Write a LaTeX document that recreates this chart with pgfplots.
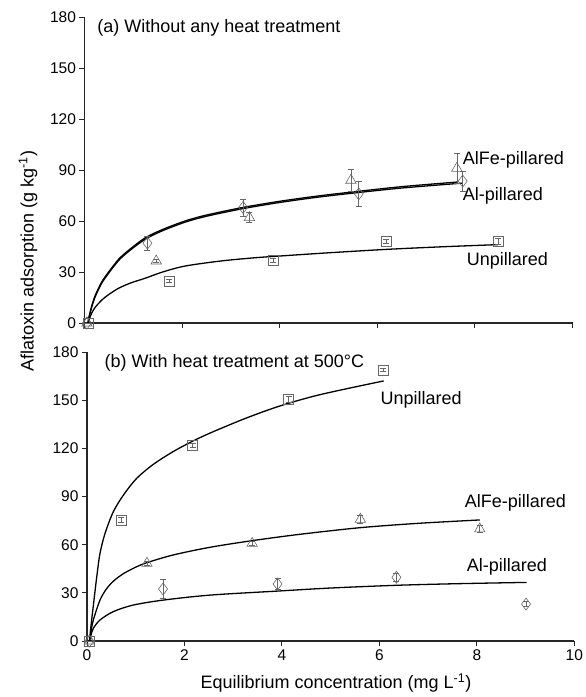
\documentclass[border=0pt]{standalone}
\usepackage{fontspec}
\setmainfont{Liberation Sans}
\usepackage{pgfplots}
\pgfplotsset{compat=1.18}

\tikzset{lab/.style={anchor=west, inner sep=0pt, font=\fontsize{18}{20}\selectfont}}
\pgfplotsset{
  panel/.style={
    scale only axis, width=488pt,
    xmin=0, xmax=10, ymin=0, ymax=180,
    xtick={0,2,...,10}, ytick={0,30,...,180},
    axis x line*=bottom, axis y line*=left,
    tick align=outside, major tick length=5pt,
    axis line style={line width=1.1pt, black!85},
    tick style={line width=0.9pt, black!85},
    tick label style={font=\fontsize{15.5}{17}\selectfont},
    /pgf/number format/assume math mode=true,
    clip=false,
  },
  fit/.style={black, line width=1.3pt, no marks, smooth},
  obs/.style={only marks, draw=black!60, line width=0.6pt,
    error bars/y dir=both, error bars/y explicit,
    error bars/error bar style={black!60, line width=0.6pt},
    error bars/error mark options={rotate=90, black!60, mark size=3pt, line width=0.6pt}},
}

\begin{document}
\begin{tikzpicture}
\useasboundingbox (0,0) rectangle (586pt,-697pt);

% (a) without heat treatment
\begin{axis}[panel, height=306pt, at={(84.5pt,-323pt)}, anchor=south west,
  xticklabels={}]
\addplot[fit] coordinates {(0.07,0) (0.1,4) (0.15,9.5) (0.22,15.5) (0.35,23.3) (0.5,29.5) (0.7,36.8) (0.9,42) (1.24,49.2) (1.6,54.3) (2.06,59.3) (2.5,62.8) (3.25,67.3) (4,70.9) (4.75,73.9) (5.5,76.4) (6.5,79.4) (7.75,82.3)};
\addplot[fit] coordinates {(0.07,0) (0.1,4.5) (0.15,10.2) (0.22,16.2) (0.35,24) (0.5,30.2) (0.7,37.5) (0.9,42.7) (1.24,50) (1.6,55) (2.06,60) (2.5,63.5) (3.25,68) (4,71.6) (4.75,74.6) (5.5,77.1) (6.5,80.2) (7.63,82.9)};
\addplot[fit] coordinates {(0.08,0) (0.12,4) (0.2,8.5) (0.354,13.5) (0.5,16.8) (0.695,20.4) (0.95,23.6) (1.24,26.3) (1.6,30) (2.06,33.5) (2.8,36.5) (3.5,38.4) (4,39.4) (5,41.3) (6.18,43.3) (7.3,44.8) (8.47,46.1)};
% AlFe-pillared (triangles)
\addplot[obs, mark=triangle, mark size=6pt] coordinates {(0.05,0) +- (0,0) (1.47,36.5) +- (0,1) (3.38,62) +- (0,3) (5.46,84) +- (0,6.5) (7.63,91) +- (0,8.7)};
% Al-pillared (diamonds)
\addplot[obs, mark=diamond, mark size=6pt] coordinates {(0.05,0) +- (0,0) (1.29,47) +- (0,4) (3.25,68) +- (0,5) (5.62,76) +- (0,7.5) (7.75,83.5) +- (0,6)};
% Unpillared (squares)
\addplot[obs, mark=square, mark size=5pt] coordinates {(0.07,0) +- (0,0) (1.74,24.7) +- (0,1) (3.87,37) +- (0,1) (6.18,48) +- (0,1) (8.47,48) +- (0,1.8)};
\node[lab] at (axis cs:0.26,173.5) {(a) Without any heat treatment};
\node[lab] at (axis cs:7.75,95.8) {AlFe-pillared};
\node[lab] at (axis cs:7.75,74.7) {Al-pillared};
\node[lab] at (axis cs:7.83,36.6) {Unpillared};
\end{axis}

% (b) with heat treatment at 500 C
\begin{axis}[panel, height=289pt, width=487.3pt, at={(87pt,-641pt)}, anchor=south west]
\addplot[fit] coordinates {(0.05,0) (0.08,9) (0.13,22) (0.2,40) (0.267,54.6) (0.37,67) (0.54,80.5) (0.75,91) (1.02,101.3) (1.36,110) (1.77,118) (2.19,124.8) (2.6,130.5) (3.28,139) (3.97,146.5) (4.79,153.5) (6.09,162)};
\addplot[fit] coordinates {(0.05,0) (0.08,5.5) (0.13,13.1) (0.267,25.5) (0.4,32.5) (0.55,37.5) (0.75,42) (1.0,46) (1.23,48.8) (1.77,53.6) (2.53,58.4) (3.39,62.5) (4.38,66.5) (5.61,70.6) (6.8,73.3) (8.06,75.4)};
\addplot[fit] coordinates {(0.05,0) (0.08,3.5) (0.13,7.9) (0.267,13.1) (0.54,18.3) (0.95,22.4) (1.57,25.5) (2.53,28.6) (3.91,31.1) (5,33) (6.35,34.7) (7.6,35.7) (9.02,36.5)};
% Unpillared (squares)
\addplot[obs, mark=square, mark size=5pt] coordinates {(0.05,0) +- (0,0) (0.70,75.4) +- (0,1.5) (2.17,122) +- (0,1.2) (4.14,150.5) +- (0,2) (6.08,168.8) +- (0,1)};
% AlFe-pillared (triangles)
\addplot[obs, mark=triangle, mark size=6pt] coordinates {(0.05,0) +- (0,0) (1.23,48.4) +- (0,1.5) (3.39,60.8) +- (0,1.5) (5.61,75.8) +- (0,2.5) (8.06,69.8) +- (0,2)};
% Al-pillared (diamonds)
\addplot[obs, mark=diamond, mark size=6pt] coordinates {(0.05,0) +- (0,0) (1.56,32.4) +- (0,6) (3.91,35.5) +- (0,3.5) (6.35,39.7) +- (0,2.5) (9.01,23) +- (0,1.5)};
\node[lab] at (axis cs:0.36,173) {(b) With heat treatment at 500°C};
\node[lab] at (axis cs:6.02,150.1) {Unpillared};
\node[lab] at (axis cs:7.75,85.8) {AlFe-pillared};
\node[lab] at (axis cs:7.79,45.9) {Al-pillared};
\end{axis}

\node[rotate=90, font=\fontsize{18}{20}\selectfont] at (28pt,-261pt) {Aflatoxin adsorption (g kg\textsuperscript{-1})};
\node[font=\fontsize{18}{20}\selectfont] at (336pt,-683pt) {Equilibrium concentration (mg L\textsuperscript{-1})};
\end{tikzpicture}
\end{document}
